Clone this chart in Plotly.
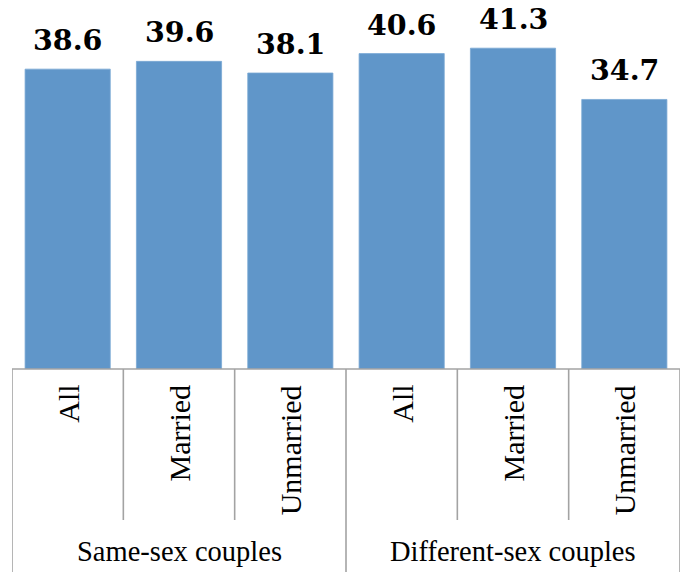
import plotly.graph_objects as go

groups = ["Same-sex couples", "Different-sex couples"]
subcats = ["All", "Married", "Unmarried"]
values = [38.6, 39.6, 38.1, 40.6, 41.3, 34.7]
labels = ["38.6", "39.6", "38.1", "40.6", "41.3", "34.7"]

W, H = 688, 573
ML, MR, MT, MB = 12, 8, 0, 204
plot_h = H - MT - MB

xs = list(range(len(values)))
fig = go.Figure()
fig.add_trace(go.Bar(x=xs, y=values, marker=dict(color="#6096c9", line=dict(color="#7aa8d4", width=0.8)),
                     width=0.765, hoverinfo="skip"))

ann = []
for i, (v, t) in enumerate(zip(values, labels)):
    ann.append(dict(x=i, y=v, xref="x", yref="y", text=f"<b>{t}</b>", showarrow=False,
                    yanchor="bottom", xanchor="center", yshift=10,
                    font=dict(family="DejaVu Serif", size=28.5, color="#000000")))
nsub = len(subcats)
for i in xs:
    ann.append(dict(x=i, y=0, xref="x", yref="paper", text=subcats[i % nsub], showarrow=False,
                    textangle=-90, yanchor="top", xanchor="center", yshift=-14,
                    font=dict(family="Liberation Serif", size=30, color="#000000")))
for g, name in enumerate(groups):
    ann.append(dict(x=g * nsub + (nsub - 1) / 2, y=0, xref="x", yref="paper", text=name,
                    showarrow=False, yanchor="middle", xanchor="center", yshift=-182,
                    font=dict(family="Liberation Serif", size=28.5, color="#000000")))

shapes = []
lc = dict(color="#a3a3a3", width=1.6)
shapes.append(dict(type="line", xref="x", yref="paper", x0=-0.5, x1=len(values) - 0.5, y0=0, y1=0, line=lc))
short_end = -(520 - plot_h) / plot_h
long_end = -(572 - plot_h) / plot_h
for k in range(len(values) + 1):
    b = k - 0.5
    end = long_end if k % nsub == 0 else short_end
    shapes.append(dict(type="line", xref="x", yref="paper", x0=b, x1=b, y0=0, y1=end, line=lc))

fig.update_layout(
    width=W, height=H, margin=dict(l=ML, r=MR, t=MT, b=MB),
    paper_bgcolor="white", plot_bgcolor="white", showlegend=False,
    xaxis=dict(range=[-0.5, len(values) - 0.5], visible=False, fixedrange=True),
    yaxis=dict(range=[0, 47.5], visible=False, fixedrange=True),
    annotations=ann, shapes=shapes,
)
fig.write_html("out.html")
